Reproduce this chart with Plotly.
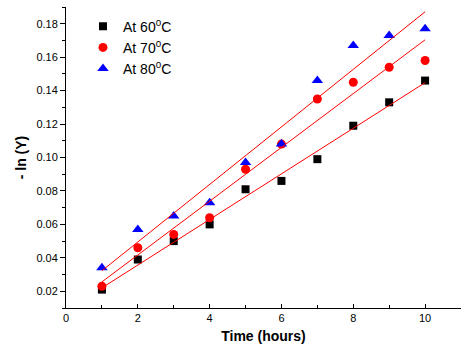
import numpy as np
import plotly.graph_objects as go

time_h = [1, 2, 3, 4, 5, 6, 7, 8, 9, 10]
y60 = [0.021, 0.039, 0.050, 0.060, 0.081, 0.086, 0.099, 0.119, 0.133, 0.146]
y70 = [0.023, 0.046, 0.054, 0.064, 0.093, 0.108, 0.135, 0.145, 0.154, 0.158]
y80 = [0.034, 0.057, 0.065, 0.073, 0.097, 0.108, 0.146, 0.167, 0.173, 0.177]
names = ["At 60<sup>0</sup>C", "At 70<sup>0</sup>C", "At 80<sup>0</sup>C"]
x_ticks = [0, 2, 4, 6, 8, 10]
y_ticks = [0.02, 0.04, 0.06, 0.08, 0.10, 0.12, 0.14, 0.16, 0.18]

series = [
    (y60, "square", "black", 8),
    (y70, "circle", "red", 9),
    (y80, "triangle-up", "blue", 10),
]

fig = go.Figure()
for (ys, sym, col, sz), nm in zip(series, names):
    fig.add_trace(go.Scatter(x=time_h, y=ys, mode="markers", name=nm,
                             marker=dict(symbol=sym, color=col, size=sz, line=dict(width=0))))
for ys, _, _, _ in series:
    k, b = np.polyfit(time_h, ys, 1)
    xs = [time_h[0], time_h[-1]]
    fig.add_trace(go.Scatter(x=xs, y=[k * v + b for v in xs], mode="lines",
                             line=dict(color="red", width=1), showlegend=False,
                             hoverinfo="skip"))

font = "Liberation Sans, Arial, sans-serif"
fig.update_layout(
    width=461, height=358,
    margin=dict(l=66, r=0, t=7, b=50),
    paper_bgcolor="white", plot_bgcolor="white",
    font=dict(family=font, size=11, color="black"),
    legend=dict(x=0.043, y=0.988, xanchor="left", yanchor="top",
                bgcolor="rgba(0,0,0,0)", borderwidth=0,
                font=dict(family=font, size=14, color="black"),
                tracegroupgap=0),
    xaxis=dict(range=[0, 11], tickvals=x_ticks, ticks="inside", ticklen=4,
               tickwidth=1, tickcolor="black", showline=True, linecolor="black",
               linewidth=1, showgrid=False, zeroline=False, automargin=False,
               minor=dict(dtick=1, tick0=0, ticks="inside", ticklen=3, tickcolor="black"),
               title=dict(text="<b>Time (hours)</b>", font=dict(size=14), standoff=7)),
    yaxis=dict(range=[0.01, 0.19], tickvals=y_ticks, tickformat=".2f", ticks="outside",
               ticklen=5, tickwidth=1, tickcolor="black", showline=True,
               linecolor="black", linewidth=1, showgrid=False, zeroline=False,
               automargin=False,
               minor=dict(dtick=0.01, tick0=0.01, ticks="outside", ticklen=3, tickcolor="black"),
               title=dict(text="<b>- ln (Y)</b>", font=dict(size=14), standoff=6)),
)
fig.write_html("out.html", config={"displayModeBar": False},
               post_script="document.body.style.margin='0';")
